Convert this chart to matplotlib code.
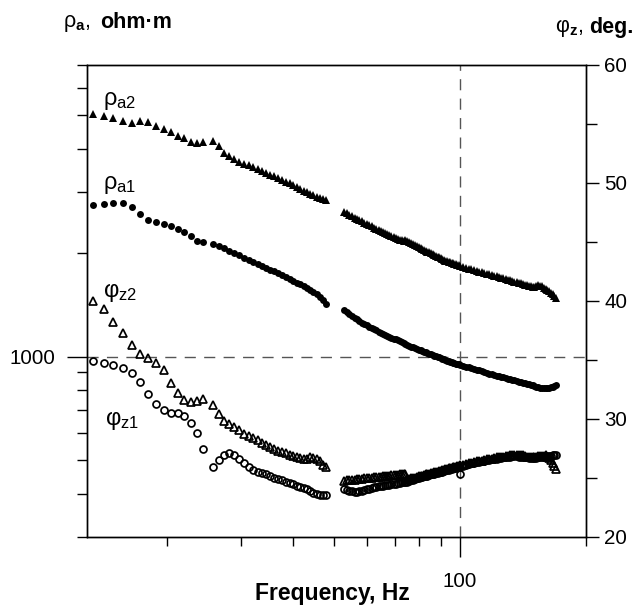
import matplotlib
matplotlib.use("Agg")
import matplotlib.pyplot as plt
from matplotlib.ticker import FixedLocator, NullFormatter, FixedFormatter

plt.rcParams['font.family'] = ['Liberation Sans', 'DejaVu Sans']
plt.rcParams['mathtext.fontset'] = 'custom'
plt.rcParams['mathtext.rm'] = 'Liberation Sans'
plt.rcParams['mathtext.it'] = 'Liberation Sans:italic'
plt.rcParams['mathtext.bf'] = 'Liberation Sans:bold'

# ---------------- data ----------------
# band 1 (low frequencies)
freq_low = [13.34, 14.13, 14.92, 15.70, 16.49, 17.28, 18.07, 18.86, 19.64, 20.43,
            21.22, 22.01, 22.80, 23.58, 24.37]
rho_a1_low = [2748, 2766, 2792, 2781, 2706, 2587, 2485, 2447, 2419, 2392,
              2340, 2289, 2237, 2164, 2149]
rho_a2_low = [5053, 4995, 4909, 4831, 4757, 4812, 4780, 4672, 4571, 4471,
              4370, 4295, 4198, 4153, 4198]
phi_z1_low = [34.94, 34.72, 34.58, 34.35, 33.87, 33.16, 32.12, 31.27, 30.76, 30.53,
              30.48, 30.25, 29.69, 28.79, 27.47]
phi_z2_low = [40.03, 39.30, 38.25, 37.26, 36.27, 35.51, 35.14, 34.77, 34.15, 33.08,
              32.18, 31.61, 31.44, 31.53, 31.72]

# band 2 (middle frequencies)
freq_mid = [25.84, 26.63, 27.42, 28.20, 28.99, 29.78, 30.57, 31.36, 32.14, 32.93,
            33.72, 34.51, 35.30, 36.08, 36.87, 37.66, 38.45, 39.24, 40.02, 40.81,
            41.60, 42.39, 43.18, 43.96, 44.75, 45.54, 46.33, 47.12, 47.90]
rho_a1_mid = [2126, 2096, 2061, 2029, 1993, 1966, 1936, 1910, 1885, 1860,
              1835, 1811, 1787, 1766, 1743, 1720, 1697, 1678, 1658, 1638,
              1620, 1598, 1577, 1559, 1538, 1514, 1489, 1459, 1421]
rho_a2_mid = [4225, 4064, 3892, 3807, 3738, 3671, 3627, 3591, 3550, 3508,
              3461, 3415, 3369, 3335, 3291, 3253, 3215, 3177, 3141, 3104,
              3064, 3028, 2992, 2961, 2934, 2909, 2886, 2864, 2847]
phi_z1_mid = [25.96, 26.53, 26.95, 27.12, 26.91, 26.57, 26.23, 25.93, 25.72, 25.55,
              25.42, 25.30, 25.17, 25.04, 24.93, 24.79, 24.66, 24.58, 24.45, 24.36,
              24.26, 24.15, 24.03, 23.90, 23.77, 23.64, 23.56, 23.52, 23.60]
phi_z2_mid = [31.19, 30.42, 29.79, 29.55, 29.28, 29.03, 28.77, 28.56, 28.39, 28.18,
              27.97, 27.80, 27.63, 27.46, 27.33, 27.20, 27.09, 26.95, 26.84, 26.74,
              26.67, 26.65, 26.65, 26.74, 26.70, 26.57, 26.40, 26.14, 25.89]

# band 3 (high frequencies)
freq_high = [52.9, 53.7, 54.5, 55.3, 56.1, 56.9, 57.6, 58.4, 59.2, 60.0,
             60.8, 61.6, 62.4, 63.2, 64.0, 64.8, 65.5, 66.3, 67.1, 67.9,
             68.7, 69.5, 70.3, 71.1, 71.9, 72.7, 73.4, 74.2, 75.0, 75.8,
             76.6, 77.4, 78.2, 79.0, 79.8, 80.6, 81.3, 82.1, 82.9, 83.7,
             84.5, 85.3, 86.1, 86.9, 87.7, 88.5, 89.2, 90.0, 90.8, 91.6,
             92.4, 93.2, 94.0, 94.8, 95.6, 96.4, 97.1, 97.9, 98.7, 99.5,
             100.3, 101.9, 103.5, 105.1, 106.6, 108.2, 109.8, 111.4, 112.9, 114.5,
             116.1, 117.7, 119.2, 120.8, 122.4, 124.0, 125.5, 127.1, 128.7, 130.3,
             131.8, 133.4, 135.0, 136.6, 138.1, 139.7, 141.3, 142.9, 144.4, 146.0,
             147.6, 149.2, 150.7, 152.3, 153.9, 155.5, 157.0, 158.6, 160.2, 161.8,
             163.3, 164.9, 166.5, 168.1, 169.6]
rho_a1_high = [1365, 1344, 1325, 1309, 1294, 1281, 1268, 1255, 1243, 1232,
               1222, 1212, 1202, 1192, 1182, 1173, 1164, 1156, 1149, 1141,
               1133, 1127, 1121, 1114, 1107, 1101, 1096, 1088, 1080, 1074,
               1069, 1064, 1059, 1053, 1048, 1043, 1039, 1034, 1029, 1024,
               1020, 1015, 1011, 1007, 1003, 999, 995, 991, 987, 982,
               978, 974, 970, 967, 964, 960, 957, 954, 952, 950,
               948, 941, 935, 930, 926, 921, 917, 913, 909, 903,
               898, 893, 889, 885, 881, 878, 875, 871, 867, 863,
               860, 856, 853, 849, 846, 843, 840, 837, 835, 832,
               829, 826, 824, 819, 815, 812, 810, 809, 810, 811,
               813, 815, 818, 822, 826]
rho_a2_high = [2627, 2600, 2575, 2550, 2527, 2506, 2485, 2464, 2444, 2423,
               2403, 2384, 2366, 2346, 2327, 2310, 2293, 2278, 2263, 2247,
               2232, 2219, 2206, 2193, 2181, 2170, 2159, 2175, 2166, 2152,
               2138, 2124, 2110, 2096, 2082, 2070, 2057, 2041, 2026, 2016,
               2006, 1994, 1982, 1971, 1960, 1949, 1938, 1927, 1917, 1907,
               1898, 1890, 1883, 1876, 1870, 1864, 1858, 1851, 1845, 1838,
               1830, 1819, 1808, 1799, 1790, 1780, 1770, 1762, 1754, 1747,
               1741, 1733, 1725, 1716, 1708, 1699, 1691, 1685, 1679, 1671,
               1664, 1656, 1649, 1642, 1636, 1629, 1623, 1617, 1611, 1605,
               1600, 1594, 1589, 1605, 1614, 1606, 1598, 1585, 1571, 1558,
               1545, 1530, 1514, 1497, 1480]
phi_z1_high = [24.07, 24.00, 23.94, 23.87, 23.81, 23.83, 23.86, 23.92, 23.98, 24.03,
               24.07, 24.14, 24.20, 24.24, 24.28, 24.32, 24.36, 24.38, 24.41, 24.44,
               24.47, 24.50, 24.53, 24.56, 24.59, 24.62, 24.66, 24.68, 24.70, 24.75,
               24.79, 24.85, 24.92, 24.96, 25.00, 25.05, 25.09, 25.13, 25.17, 25.21,
               25.25, 25.30, 25.34, 25.38, 25.42, 25.44, 25.47, 25.51, 25.55, 25.60,
               25.64, 25.68, 25.72, 25.76, 25.79, 25.82, 25.85, 25.88, 25.91, 25.95,
               25.34, 26.04, 26.14, 26.19, 26.23, 26.28, 26.33, 26.38, 26.42, 26.46,
               26.50, 26.54, 26.57, 26.61, 26.65, 26.68, 26.71, 26.75, 26.78, 26.80,
               26.82, 26.84, 26.86, 26.84, 26.82, 26.78, 26.75, 26.74, 26.74, 26.72,
               26.71, 26.70, 26.70, 26.72, 26.74, 26.76, 26.78, 26.80, 26.82, 26.84,
               26.86, 26.88, 26.91, 26.91, 26.91]
phi_z2_high = [24.75, 24.79, 24.83, 24.85, 24.87, 24.90, 24.92, 24.94, 24.96, 24.98,
               25.00, 25.03, 25.06, 25.08, 25.10, 25.12, 25.14, 25.17, 25.19, 25.21,
               25.23, 25.25, 25.27, 25.29, 25.31, 25.34, 25.36, 25.38, 24.92, 24.94,
               24.96, 25.00, 25.04, 25.08, 25.13, 25.17, 25.21, 25.25, 25.30, 25.34,
               25.38, 25.42, 25.45, 25.48, 25.51, 25.55, 25.59, 25.62, 25.66, 25.70,
               25.74, 25.78, 25.81, 25.84, 25.87, 25.90, 25.93, 25.96, 25.99, 26.02,
               26.06, 26.12, 26.19, 26.24, 26.29, 26.35, 26.40, 26.44, 26.48, 26.52,
               26.57, 26.61, 26.65, 26.70, 26.74, 26.76, 26.78, 26.81, 26.84, 26.88,
               26.91, 26.93, 26.95, 26.95, 26.95, 26.97, 26.99, 26.90, 26.82, 26.80,
               26.78, 26.78, 26.78, 26.82, 26.86, 26.86, 26.86, 26.89, 26.91, 26.80,
               26.70, 26.50, 26.27, 26.00, 25.76]

freq_bands = [freq_low, freq_mid, freq_high]
rho_a1 = [rho_a1_low, rho_a1_mid, rho_a1_high]
rho_a2 = [rho_a2_low, rho_a2_mid, rho_a2_high]
phi_z1 = [phi_z1_low, phi_z1_mid, phi_z1_high]
phi_z2 = [phi_z2_low, phi_z2_mid, phi_z2_high]

x_minor = [20, 30, 40, 50, 60, 70, 80, 90, 200]
x_major = [100]
rho_major = [1000]
rho_minor = [300, 400, 500, 600, 700, 800, 900, 2000, 3000, 4000, 5000, 6000, 7000]
phi_major = [20, 30, 40, 50, 60]
phi_minor = [25, 35, 45, 55]

# ---------------- figure ----------------
W, H = 643, 606
fig = plt.figure(figsize=(W / 100, H / 100), dpi=100)
L, R, T, B = 87, 586, 65, 537
ax = fig.add_axes([L / W, 1 - B / H, (R - L) / W, (B - T) / H])
ax2 = ax.twinx()

ax.set_xscale('log')
ax.set_yscale('log')
ax.set_xlim(12.9, 200)
ax.set_ylim(300, 7000)
ax2.set_ylim(20, 60)

ms_c = 5.0
ms_t = 5.9
for f, r1, r2 in zip(freq_bands, rho_a1, rho_a2):
    ax.plot(f, r2, linestyle='none', marker='^', ms=ms_t, color='black', mew=0)
    ax.plot(f, r1, linestyle='none', marker='o', ms=ms_c, color='black', mew=0)
for f, p1, p2 in zip(freq_bands, phi_z1, phi_z2):
    ax2.plot(f, p2, linestyle='none', marker='^', ms=ms_t - 0.4, mfc='none', mec='black', mew=1.25)
    ax2.plot(f, p1, linestyle='none', marker='o', ms=ms_c, mfc='none', mec='black', mew=1.25)

# reference dashed lines
ax.axhline(1000, color='#555555', lw=1.0, dashes=(8, 6), zorder=0)
ax.axvline(100, color='#555555', lw=1.0, dashes=(8, 6), zorder=0)

# ticks
ax.xaxis.set_major_locator(FixedLocator(x_major))
ax.xaxis.set_minor_locator(FixedLocator(x_minor))
ax.xaxis.set_major_formatter(FixedFormatter(['100']))
ax.xaxis.set_minor_formatter(NullFormatter())
ax.yaxis.set_major_locator(FixedLocator(rho_major))
ax.yaxis.set_minor_locator(FixedLocator(rho_minor))
ax.yaxis.set_major_formatter(FixedFormatter(['1000']))
ax.yaxis.set_minor_formatter(NullFormatter())
ax2.yaxis.set_major_locator(FixedLocator(phi_major))
ax2.yaxis.set_minor_locator(FixedLocator(phi_minor))

ax.tick_params(axis='both', which='major', direction='out', length=14.4, width=1.0,
               labelsize=14.8, pad=8.5)
ax.tick_params(axis='y', which='minor', direction='out', length=7.2, width=1.0)
ax.tick_params(axis='x', which='minor', direction='out', length=6.5, width=1.0)
ax.tick_params(axis='x', which='major', pad=10.5)
ax2.tick_params(axis='y', which='major', direction='out', length=9.5, width=1.0,
                labelsize=14.8, pad=3.5)
ax2.tick_params(axis='y', which='minor', direction='out', length=8, width=1.0)

for a in (ax, ax2):
    for s in a.spines.values():
        s.set_linewidth(1.0)

# series labels
def fx(px):
    return px / W

def fy(py):
    return 1 - py / H

fig.text(fx(103), fy(101), r'ρ$_{\mathrm{a2}}$', fontsize=17, va='center', ha='left')
fig.text(fx(103), fy(185), r'ρ$_{\mathrm{a1}}$', fontsize=17, va='center', ha='left')
fig.text(fx(103), fy(293), r'φ$_{\mathrm{z2}}$', fontsize=17, va='center', ha='left')
fig.text(fx(105), fy(421), r'φ$_{\mathrm{z1}}$', fontsize=17, va='center', ha='left')

# axis titles
fig.text(fx(63), fy(23), r'ρ$_{\mathbf{a}}$,', fontsize=15.5, va='center', ha='left')
fig.text(fx(100), fy(23), 'ohm·m', fontsize=15.5, fontweight='bold', va='center', ha='left')
fig.text(fx(555), fy(28), r'φ$_{\mathbf{z}}$,', fontsize=15.5, va='center', ha='left')
fig.text(fx(589), fy(28), 'deg.', fontsize=15.5, fontweight='bold', va='center', ha='left')
fig.text(fx(410), fy(600), 'Frequency, Hz', fontsize=16.5, fontweight='bold',
         va='baseline', ha='right')

fig.savefig('out.png', dpi=100)
